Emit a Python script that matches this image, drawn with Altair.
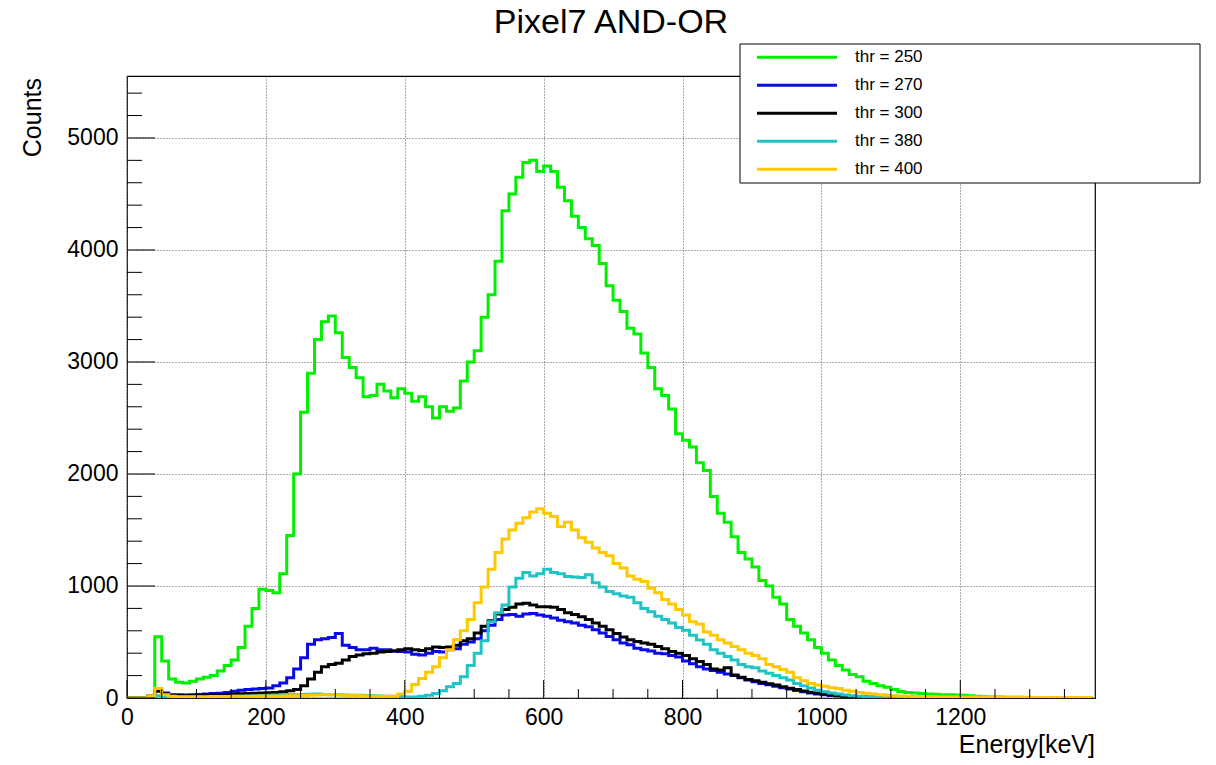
import altair as alt
import pandas as pd

# ---------------- data (10 keV bins, left edges 0..1380) ----------------
bin_width = 10
bin_edges = list(range(0, 1390, bin_width))

thr250 = [
    0, 0, 0, 0, 546, 330, 170, 140, 135, 150,
    170, 185, 200, 240, 290, 340, 450, 640, 800, 970,
    960, 940, 1110, 1450, 2000, 2550, 2900, 3200, 3360, 3410,
    3260, 3040, 2950, 2860, 2690, 2700, 2800, 2740, 2680, 2760,
    2720, 2650, 2690, 2600, 2500, 2600, 2560, 2590, 2830, 3000,
    3100, 3400, 3600, 3900, 4350, 4500, 4650, 4780, 4800, 4700,
    4750, 4700, 4560, 4440, 4300, 4200, 4100, 4040, 3880, 3680,
    3550, 3450, 3300, 3250, 3080, 2950, 2760, 2700, 2580, 2360,
    2300, 2240, 2100, 2030, 1800, 1650, 1570, 1440, 1300, 1240,
    1170, 1050, 1000, 900, 840, 700, 640, 580, 520, 450,
    400, 340, 290, 250, 210, 190, 150, 130, 110, 95,
    75, 58, 50, 45, 40, 36, 33, 30, 28, 26,
    24, 20, 16, 12, 10, 8, 7, 6, 6, 5,
    5, 4, 4, 4, 3, 3, 3, 3, 2,
]
thr270 = [
    0, 0, 0, 20, 70, 45, 30, 28, 27, 30,
    32, 35, 40, 42, 50, 60, 70, 75, 80, 85,
    90, 110, 135, 180, 260, 360, 480, 520, 530, 540,
    575, 470, 450, 430, 430, 445, 430, 430, 420, 415,
    410, 390, 385, 400, 415, 410, 430, 440, 480, 500,
    530, 600, 650, 700, 740, 745, 730, 750, 755, 740,
    730, 715, 695, 680, 670, 650, 635, 610, 580, 550,
    520, 490, 475, 445, 430, 420, 400, 395, 380, 365,
    330, 305, 280, 260, 245, 230, 215, 200, 180, 160,
    145, 130, 118, 105, 92, 80, 68, 55, 45, 36,
    28, 22, 17, 13, 10, 8, 7, 6, 5, 5,
    4, 4, 4, 3, 3, 3, 3, 3, 3, 3,
    3, 3, 2, 2, 2, 2, 2, 2, 2, 2,
    2, 2, 2, 2, 2, 1, 1, 1, 1,
]
thr300 = [
    0, 0, 0, 15, 60, 35, 25, 22, 20, 22,
    24, 26, 28, 30, 32, 35, 38, 40, 42, 44,
    46, 50, 55, 65, 75, 110, 170, 230, 280, 300,
    310, 340, 370, 385, 395, 400, 410, 415, 420, 430,
    440, 430, 425, 440, 455, 450, 455, 470, 510, 530,
    580, 640, 690, 750, 790, 810, 840, 845, 830, 815,
    815, 810, 790, 760, 745, 725, 700, 670, 640, 610,
    575, 545, 520, 505, 490, 480, 460, 440, 415, 400,
    380, 350, 325, 300, 260, 250, 270, 205, 185, 165,
    155, 140, 128, 115, 100, 88, 75, 62, 52, 44,
    35, 28, 22, 18, 14, 11, 9, 7, 6, 5,
    5, 4, 4, 4, 3, 3, 3, 3, 3, 3,
    3, 3, 3, 2, 2, 2, 2, 2, 2, 2,
    2, 2, 2, 2, 2, 2, 1, 1, 1,
]
thr380 = [
    0, 0, 0, 5, 20, 10, 8, 8, 8, 8,
    10, 10, 12, 12, 14, 15, 16, 18, 20, 22,
    24, 26, 28, 30, 30, 32, 34, 35, 32, 30,
    28, 26, 25, 24, 22, 20, 18, 16, 15, 14,
    8, 10, 15, 25, 40, 65, 100, 130, 190, 290,
    400, 510, 680, 760, 830, 990, 1070, 1120, 1090, 1110,
    1150, 1120, 1110, 1085, 1080, 1075, 1100, 1030, 990, 950,
    930, 910, 900, 850, 800, 770, 730, 700, 670, 630,
    605, 560, 517, 480, 430, 400, 370, 339, 300, 279,
    270, 240, 220, 200, 180, 160, 130, 110, 90, 70,
    56, 45, 35, 27, 20, 15, 12, 10, 8, 7,
    6, 5, 5, 4, 4, 4, 4, 3, 3, 3,
    3, 3, 3, 2, 2, 2, 2, 2, 2, 2,
    2, 2, 2, 2, 2, 2, 2, 1, 1,
]
thr400 = [
    0, 0, 0, 20, 85, 30, 15, 12, 12, 12,
    12, 12, 13, 13, 14, 15, 15, 16, 16, 17,
    18, 18, 18, 20, 20, 22, 24, 26, 28, 28,
    26, 24, 22, 20, 18, 16, 15, 15, 15, 35,
    60, 120, 175, 230, 280, 360, 430, 520, 600, 700,
    850, 990, 1150, 1300, 1420, 1500, 1560, 1610, 1660, 1690,
    1650, 1620, 1530, 1570, 1500, 1430, 1390, 1340, 1300, 1270,
    1200, 1160, 1090, 1060, 1040, 980, 940, 880, 840, 790,
    740, 680, 660, 590, 560, 520, 490, 460, 430, 400,
    380, 350, 300, 280, 255, 230, 180, 155, 130, 115,
    105, 92, 85, 70, 60, 50, 42, 35, 28, 24,
    20, 18, 16, 14, 12, 11, 10, 10, 9, 9,
    8, 8, 8, 7, 7, 7, 6, 6, 6, 6,
    5, 5, 5, 5, 5, 5, 4, 4, 4,
]

series_labels = ["thr = 250", "thr = 270", "thr = 300", "thr = 380", "thr = 400"]
series_colors = ["#00f000", "#0a0ae6", "#000000", "#20c4c4", "#ffc800"]
series_values = [thr250, thr270, thr300, thr380, thr400]

x_major = [0, 200, 400, 600, 800, 1000, 1200]
x_minor = [v for v in range(0, 1394, 50) if v % 200 != 0]
y_major = [0, 1000, 2000, 3000, 4000, 5000]
y_minor = [v for v in range(0, 5553, 200) if v % 1000 != 0]

X_MAX = 1394
Y_MAX = 5553
W, H = 968, 622
FONT = "Liberation Sans"

# ---------------- build table ----------------
rows = []
for lab, vals in zip(series_labels, series_values):
    for e, c in zip(bin_edges, vals):
        rows.append({"E": e, "C": c, "series": lab})
    rows.append({"E": bin_edges[-1] + bin_width, "C": vals[-1], "series": lab})
df = pd.DataFrame(rows)

xscale = alt.Scale(domain=[0, X_MAX], nice=False, zero=False)
yscale = alt.Scale(domain=[0, Y_MAX], nice=False, zero=False)

xaxis = alt.Axis(values=x_major, title=None, ticks=False, domain=False, format="d",
                 labelFontSize=23, labelFont=FONT, labelColor="black",
                 labelPadding=8, labelFlush=False, labelOverlap=False,
                 grid=True, gridDash=[1, 2], gridColor="#555555", gridWidth=1)
yaxis = alt.Axis(values=y_major, title=None, ticks=False, domain=False, format="d",
                 labelFontSize=23, labelFont=FONT, labelColor="black",
                 labelPadding=9, labelFlush=False, labelOverlap=False,
                 grid=True, gridDash=[1, 2], gridColor="#555555", gridWidth=1)

lines = alt.Chart(df).mark_line(interpolate="step-after", strokeWidth=3, clip=True).encode(
    x=alt.X("E:Q", scale=xscale, axis=xaxis),
    y=alt.Y("C:Q", scale=yscale, axis=yaxis),
    color=alt.Color("series:N", scale=alt.Scale(domain=series_labels, range=series_colors), legend=None),
)

# inward ticks (drawn through the same scales)
xmaj = alt.Chart(pd.DataFrame({"E": x_major})).mark_rule(color="black", strokeWidth=1).encode(
    x=alt.X("E:Q", scale=xscale, axis=xaxis), y=alt.value(H), y2=alt.value(H - 18))
xmin = alt.Chart(pd.DataFrame({"E": x_minor})).mark_rule(color="black", strokeWidth=1).encode(
    x=alt.X("E:Q", scale=xscale, axis=xaxis), y=alt.value(H), y2=alt.value(H - 9))
ymaj = alt.Chart(pd.DataFrame({"C": y_major})).mark_rule(color="black", strokeWidth=1).encode(
    y=alt.Y("C:Q", scale=yscale, axis=yaxis), x=alt.value(0), x2=alt.value(28))
ymin = alt.Chart(pd.DataFrame({"C": y_minor})).mark_rule(color="black", strokeWidth=1).encode(
    y=alt.Y("C:Q", scale=yscale, axis=yaxis), x=alt.value(0), x2=alt.value(15))

one = pd.DataFrame({"a": [0]})

title = alt.Chart(one).mark_text(fontSize=34, font=FONT, align="center", baseline="alphabetic",
                                 color="black").encode(
    text=alt.value("Pixel7 AND-OR"), x=alt.value(W / 2), y=alt.value(-43))
ytitle = alt.Chart(one).mark_text(fontSize=25, font=FONT, align="right", baseline="alphabetic",
                                  angle=270, color="black").encode(
    text=alt.value("Counts"), x=alt.value(-86), y=alt.value(2))
xtitle = alt.Chart(one).mark_text(fontSize=25, font=FONT, align="right", baseline="alphabetic",
                                  color="black").encode(
    text=alt.value("Energy[keV]"), x=alt.value(W), y=alt.value(677))

# legend box
leg_box = alt.Chart(one).mark_rect(fill="white", stroke="black", strokeWidth=1).encode(
    x=alt.value(613), x2=alt.value(1073), y=alt.value(-32), y2=alt.value(107))
leg_layers = [leg_box]
for i, (lab, col) in enumerate(zip(series_labels, series_colors)):
    yy = -18.7 + 28 * i
    leg_layers.append(alt.Chart(one).mark_rule(color=col, strokeWidth=3).encode(
        x=alt.value(630), x2=alt.value(710), y=alt.value(yy)))
    leg_layers.append(alt.Chart(one).mark_text(fontSize=17, font=FONT, align="left",
                                               baseline="middle", color="black").encode(
        text=alt.value(lab), x=alt.value(728), y=alt.value(yy)))

chart = alt.layer(lines, xmaj, xmin, ymaj, ymin, title, ytitle, xtitle, *leg_layers).properties(
    width=W, height=H,
    autosize=alt.AutoSizeParams(type="none"),
    padding={"left": 127, "top": 76, "right": 121, "bottom": 67},
    background="white",
).configure_view(stroke="black", strokeWidth=1.2)

chart.save("out.html", embed_options={"renderer": "svg", "actions": False})
